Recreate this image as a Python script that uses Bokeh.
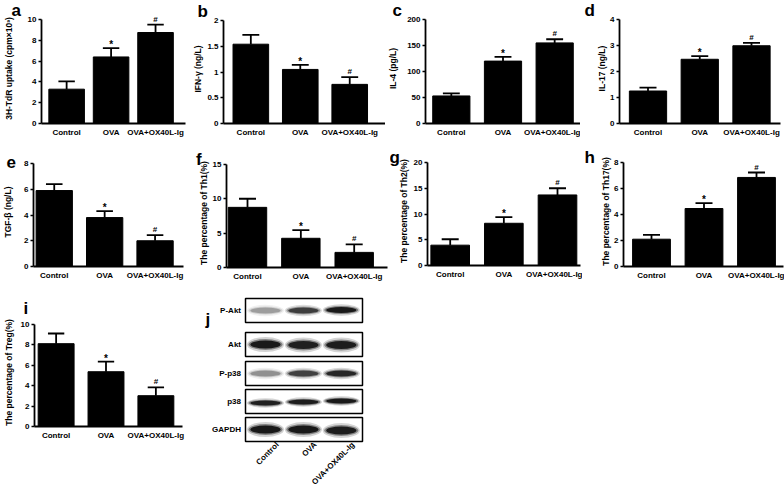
import math
from bokeh.plotting import figure
from bokeh.layouts import row, column
from bokeh.models import Range1d, FixedTicker, Label
from bokeh.core.properties import value
from bokeh.embed import file_html
from bokeh.resources import INLINE

# ---------------- data ----------------
groups = ["Control", "OVA", "OVA+OX40L-Ig"]
marks = ["", "*", "#"]

a_mean = [3.3, 6.4, 8.75]
a_err = [0.75, 0.85, 0.75]
b_mean = [1.54, 1.05, 0.76]
b_err = [0.18, 0.09, 0.14]
c_mean = [53, 120, 155]
c_err = [5, 8, 7]
d_mean = [1.25, 2.47, 2.99]
d_err = [0.13, 0.12, 0.11]
e_mean = [5.9, 3.8, 2.0]
e_err = [0.5, 0.5, 0.43]
f_mean = [8.75, 4.25, 2.2]
f_err = [1.25, 1.2, 1.15]
g_mean = [3.95, 8.2, 13.7]
g_err = [1.15, 1.2, 1.3]
h_mean = [2.1, 4.46, 6.85]
h_err = [0.34, 0.42, 0.38]
i_mean = [8.12, 5.37, 3.02]
i_err = [1.0, 1.0, 0.82]

a_ticks = [0, 2, 4, 6, 8, 10]
b_ticks = [0, 0.5, 1.0, 1.5, 2.0]
c_ticks = [0, 50, 100, 150, 200]
d_ticks = [0, 1, 2, 3, 4]
e_ticks = [0, 2, 4, 6, 8]
f_ticks = [0, 5, 10, 15]
g_ticks = [0, 5, 10, 15, 20]
h_ticks = [0, 2, 4, 6, 8]
i_ticks = [0, 2, 4, 6, 8, 10]

blot_rows = ["P-Akt", "Akt", "P-p38", "p38", "GAPDH"]
pakt_band = [0.30, 0.72, 0.95]
akt_band = [0.95, 0.90, 0.92]
pp38_band = [0.35, 0.70, 0.85]
p38_band = [0.90, 0.92, 0.95]
gapdh_band = [0.95, 0.95, 0.92]

# ---------------- layout helpers ----------------
FONT = "Liberation Sans"


def px(v):
    return int(round(v))


def base_style(p):
    p.outline_line_color = None
    p.xgrid.visible = False
    p.ygrid.visible = False
    p.background_fill_color = "white"
    p.border_fill_color = "white"
    try:
        p.frame_align = False
    except Exception:
        pass


def bar_panel(mean, err, yticks, ytitle, letter, cell, frame, centers, tc, lpos, so,
              bw=0.72, ext=6):
    cx0, cx1, cy0, cy1 = px(cell[0]), px(cell[1]), px(cell[2]), px(cell[3])
    L, R, T, B = px(frame[0]), px(frame[1]), px(frame[2]), px(frame[3])
    c0, c2 = centers[0], centers[1]
    d = (c2 - c0) / 2
    xs = (L - c0) / d
    xe = (R - c0) / d
    ymax = yticks[-1]
    ytop = ymax + ext * ymax / (B - T)
    Tn = T - ext
    p = figure(width=cx1 - cx0, height=cy1 - cy0, title=letter,
               x_range=Range1d(xs, xe), y_range=Range1d(0, ytop),
               min_border_left=L - cx0, min_border_right=cx1 - R,
               min_border_top=Tn - cy0, min_border_bottom=cy1 - B,
               output_backend="svg", toolbar_location=None)
    base_style(p)
    t = p.title
    t.align = "left"
    t.offset = lpos[0] - L
    t.vertical_align = "bottom"
    t.text_font = FONT
    t.text_font_style = "bold"
    t.text_font_size = "17px"
    t.text_color = "black"
    try:
        t.standoff = so - 2 * ext
    except Exception:
        t.standoff = 0
    x = list(range(len(groups)))
    p.vbar(x=x, top=mean, width=bw, bottom=0, fill_color="black", line_color="black")
    tops = [m + e for m, e in zip(mean, err)]
    p.segment(x0=x, y0=mean, x1=x, y1=tops, line_color="black", line_width=1.8)
    cw = 17 / d
    p.segment(x0=[xi - cw / 2 for xi in x], y0=tops, x1=[xi + cw / 2 for xi in x], y1=tops,
              line_color="black", line_width=1.8)
    for xi, tp, m in zip(x, tops, marks):
        if m == "*":
            p.add_layout(Label(x=xi, y=tp, text=m, text_align="center", text_baseline="bottom",
                               y_offset=-2, text_font=FONT, text_font_style="bold",
                               text_font_size="10px", text_color="black"))
        elif m == "#":
            p.add_layout(Label(x=xi, y=tp, text=m, text_align="center", text_baseline="bottom",
                               y_offset=1, text_font=FONT, text_font_style="bold",
                               text_font_size="8px", text_color="black"))
    xa = p.xaxis[0]
    xa.ticker = FixedTicker(ticks=x)
    xa.major_label_overrides = {i: g for i, g in enumerate(groups)}
    xa.axis_line_width = 1.8
    xa.axis_line_color = "black"
    xa.major_tick_line_color = None
    xa.minor_tick_line_color = None
    xa.major_tick_out = 0
    xa.major_tick_in = 0
    xa.major_label_standoff = 4
    xa.major_label_text_font = FONT
    xa.major_label_text_font_style = "bold"
    xa.major_label_text_font_size = "8px"
    xa.major_label_text_color = "black"
    ya = p.yaxis[0]
    ya.ticker = FixedTicker(ticks=yticks)
    ya.bounds = (0, ymax)
    ya.axis_line_width = 1.8
    ya.axis_line_color = "black"
    ya.major_tick_line_width = 1.5
    ya.major_tick_line_color = "black"
    ya.major_tick_out = 3
    ya.major_tick_in = 0
    ya.minor_tick_line_color = None
    ya.major_label_standoff = 2
    ya.major_label_text_font = FONT
    ya.major_label_text_font_style = "bold"
    ya.major_label_text_font_size = "8px"
    ya.major_label_text_color = "black"
    ya.axis_label = ytitle
    ya.axis_label_text_font = FONT
    ya.axis_label_text_font_style = "bold"
    ya.axis_label_text_font_size = "8.5px"
    ya.axis_label_text_color = "black"
    labs = [("%g" % v) if not isinstance(v, float) else ("%.1f" % v) for v in yticks]
    lw = max(sum(2.2 if ch == "." else 4.45 for ch in s) for s in labs)
    ya.axis_label_standoff = max(0, int(round(L - tc - 3 - 2 - lw - 4.9)))
    return p


def blot_panel():
    cell = (190, 400, 283, 488)
    cx0, cx1, cy0, cy1 = cell
    lane0, lane2 = 265.0, 340.8
    d = (lane2 - lane0) / 2

    def lx(xref):
        return (xref - lane0) / d

    def ly(yref):
        return cy1 - yref

    p = figure(width=cx1 - cx0, height=cy1 - cy0,
               x_range=Range1d(lx(cx0), lx(cx1)), y_range=Range1d(ly(cy1), ly(cy0)),
               min_border=0, x_axis_location=None, y_axis_location=None,
               output_backend="svg", toolbar_location=None)
    base_style(p)
    row_y = [310, 344, 373, 401, 429]
    band_h = [6, 8, 6, 5, 8]
    band_dy = [[0, 0, -0.5], [0, 0.5, 0.5], [0, 0, 0], [1.5, 0.5, -0.5], [0, 0, 1]]
    bands = [pakt_band, akt_band, pp38_band, p38_band, gapdh_band]
    p.quad(left=[lx(245)] * 5, right=[lx(362)] * 5,
           top=[ly(y - 12) for y in row_y], bottom=[ly(y + 12) for y in row_y],
           fill_color="white", line_color="black", line_width=1.5)
    lanes = [0, 1, 2]
    for ry, h, dys, inten in zip(row_y, band_h, band_dy, bands):
        ys = [ly(ry + dy) for dy in dys]
        p.ellipse(x=lanes, y=ys, width=0.98, height=h * 1.9, fill_color="black",
                  fill_alpha=[v * 0.18 for v in inten], line_color=None)
        p.ellipse(x=lanes, y=ys, width=0.9, height=h * 1.35, fill_color="black",
                  fill_alpha=[v * 0.4 for v in inten], line_color=None)
        p.ellipse(x=lanes, y=ys, width=0.8, height=h, fill_color="black",
                  fill_alpha=[v * 0.85 for v in inten], line_color=None)
    p.text(x=[lx(240.5)] * 5, y=[ly(y) for y in row_y], text=blot_rows,
           text_align="right", text_baseline="middle", text_font=value(FONT),
           text_font_style="bold", text_font_size="8px", text_color="black")
    p.text(x=[l + 12 / d for l in lanes], y=[ly(443)] * 3, text=groups, angle=math.pi / 4,
           text_align="right", text_baseline="middle", text_font=value(FONT),
           text_font_style="bold", text_font_size="8px", text_color="black")
    p.text(x=[lx(205)], y=[ly(319)], text=["j"], text_align="left", text_baseline="alphabetic",
           text_font=value(FONT), text_font_style="bold", text_font_size="17px",
           text_color="black")
    return p


pa = bar_panel(a_mean, a_err, a_ticks, "3H-TdR uptake (cpm×10³)", "a",
               (0, 190, 0, 140), (36, 185, 19.3, 123.3), (62, 154), 6, (6, 13.3), 0, bw=0.8)
pb = bar_panel(b_mean, b_err, b_ticks, "IFN-γ (ng/L)", "b",
               (190, 385, 0, 140), (221.7, 385, 20, 123.3), (249.5, 349), 200, (196, 13.3), 0)
pc = bar_panel(c_mean, c_err, c_ticks, "IL-4 (pg/L)", "c",
               (385, 580, 0, 140), (424, 580, 19.3, 123.3), (450, 554), 395, (391, 16.7), 0)
pd = bar_panel(d_mean, d_err, d_ticks, "IL-17 (ng/L)", "d",
               (580, 784, 0, 140), (619.3, 780, 19.3, 123.3), (647.5, 751), 607.7, (584, 20), 0)
pe = bar_panel(e_mean, e_err, e_ticks, "TGF-β (ng/L)", "e",
               (0, 190, 140, 283), (29.3, 182.7, 162.6, 265.7), (50.3, 153.8), 6.7, (2, 164), -8)
pf = bar_panel(f_mean, f_err, f_ticks, "The percentage of Th1(%)", "f",
               (190, 390, 140, 283), (226, 386.7, 164.2, 268.7), (247, 353.7), 206.7, (195.5, 166), -8)
pg = bar_panel(g_mean, g_err, g_ticks, "The percentage of Th2(%)", "g",
               (390, 582, 140, 283), (426.7, 580, 161.5, 264.7), (449.7, 557), 406.7, (389, 163), -8)
ph = bar_panel(h_mean, h_err, h_ticks, "The percentage of Th17(%)", "h",
               (582, 784, 140, 283), (623.3, 783, 161.7, 265.7), (651, 756), 610, (584, 164), -8)
pi_ = bar_panel(i_mean, i_err, i_ticks, "The percentage of Treg(%)", "i",
                (0, 190, 283, 488), (28.3, 181.7, 323.5, 426), (50.5, 154.3), 5, (17, 315), 14)
pj = blot_panel()

layout = column(row(pa, pb, pc, pd), row(pe, pf, pg, ph), row(pi_, pj))

open("out.html", "w").write(file_html(layout, INLINE))
